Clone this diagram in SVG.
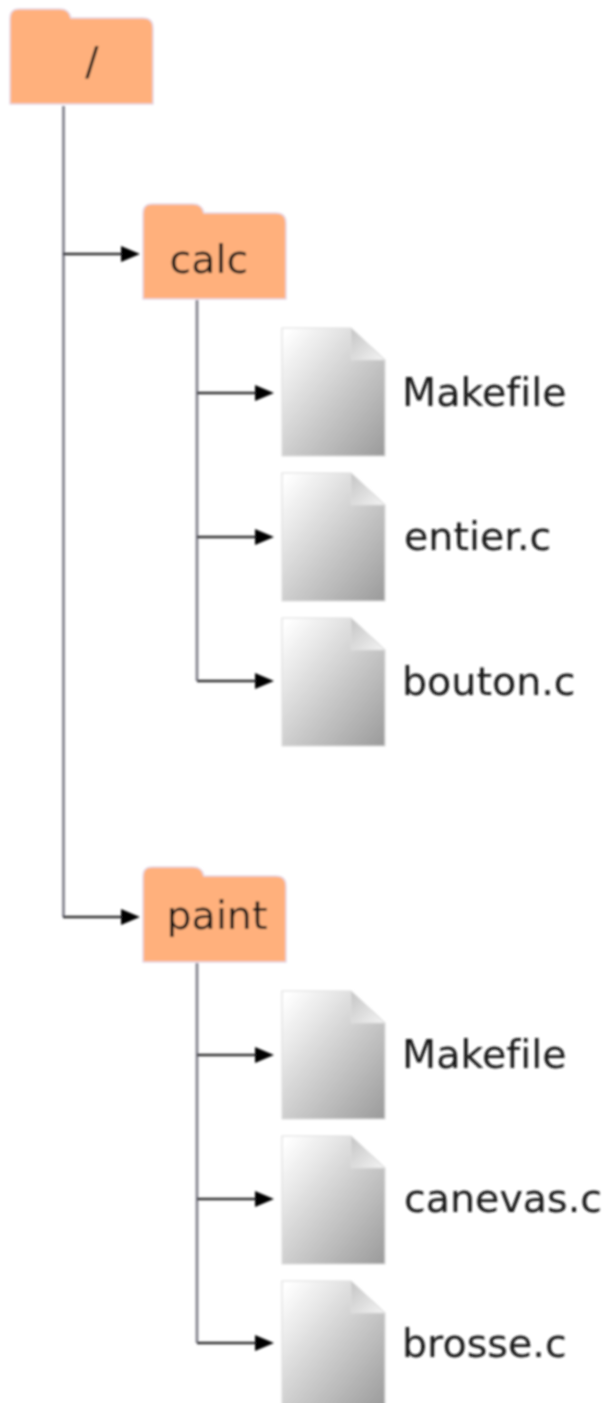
<svg xmlns="http://www.w3.org/2000/svg" width="612" height="1403" viewBox="0 0 612 1403">
<style>
.lbl{font-family:"DejaVu Sans",sans-serif;font-size:39.6px;fill:#141414;font-variant-ligatures:none}
.folder{fill:#ffb07c;stroke:#e6d8e6;stroke-width:1.5}
.trunk{fill:none;stroke:#85858f;stroke-width:2.8}
.branch{fill:none;stroke:#2e2e32;stroke-width:2.6}
.head{fill:#000}
</style>
<defs>
<filter id="soft" x="-5%" y="-5%" width="110%" height="110%"><feGaussianBlur stdDeviation="1"/></filter>
<linearGradient id="pg" x1="0" y1="0" x2="1" y2="1"><stop offset="0.04" stop-color="#ffffff"/><stop offset="1" stop-color="#9a9a9a"/></linearGradient>
<linearGradient id="fg" x1="0" y1="0" x2="1" y2="1"><stop offset="0" stop-color="#c4c4c4"/><stop offset="1" stop-color="#f4f4f4"/></linearGradient>
<path id="fo" class="folder" d="M0 95V9Q0 0 9 0H50Q59 0 61 9H133Q143 9 143 19V95Z"/>
<g id="fi">
<path d="M0 0H69L103 32V128H0Z" fill="url(#pg)" stroke="#dedede" stroke-width="1.2"/>
<path d="M69 0L103 32H69Z" fill="url(#fg)" stroke="#dcdcdc" stroke-width="1"/>
</g>
<path id="ah" class="head" d="M0 -8L19 0L0 8Z"/>
</defs>
<g filter="url(#soft)">
<g id="connectors">
<path class="trunk" d="M63.500 106V917"/>
<path class="trunk" d="M197 300V681"/>
<path class="trunk" d="M197 963V1343"/>
<path class="branch" d="M63 254H122M63 917H122M197 393H256M197 537H256M197 681H256M197 1055H256M197 1199H256M197 1343H256"/>
<use href="#ah" x="121" y="254"/>
<use href="#ah" x="121" y="917"/>
<use href="#ah" x="255" y="393"/>
<use href="#ah" x="255" y="537"/>
<use href="#ah" x="255" y="681"/>
<use href="#ah" x="255" y="1055"/>
<use href="#ah" x="255" y="1199"/>
<use href="#ah" x="255" y="1343"/>
</g>
<g id="root"><use href="#fo" x="10" y="9"/><text class="lbl" x="92" y="75" text-anchor="middle">/</text></g>
<g id="calc"><use href="#fo" x="143" y="204"/><text class="lbl" x="209" y="273" text-anchor="middle">calc</text></g>
<g id="paint"><use href="#fo" x="143" y="867"/><text class="lbl" x="217" y="929" text-anchor="middle">paint</text></g>
<g id="calc-makefile"><use href="#fi" x="282" y="328"/><text class="lbl" x="402" y="406">Makefile</text></g>
<g id="calc-entier"><use href="#fi" x="282" y="473"/><text class="lbl" x="404" y="550">entier.c</text></g>
<g id="calc-bouton"><use href="#fi" x="282" y="618"/><text class="lbl" x="402" y="695">bouton.c</text></g>
<g id="paint-makefile"><use href="#fi" x="282" y="991"/><text class="lbl" x="402" y="1068">Makefile</text></g>
<g id="paint-canevas"><use href="#fi" x="282" y="1136"/><text class="lbl" x="404" y="1212">canevas.c</text></g>
<g id="paint-brosse"><use href="#fi" x="282" y="1281"/><text class="lbl" x="402" y="1357">brosse.c</text></g>
</g>
</svg>
